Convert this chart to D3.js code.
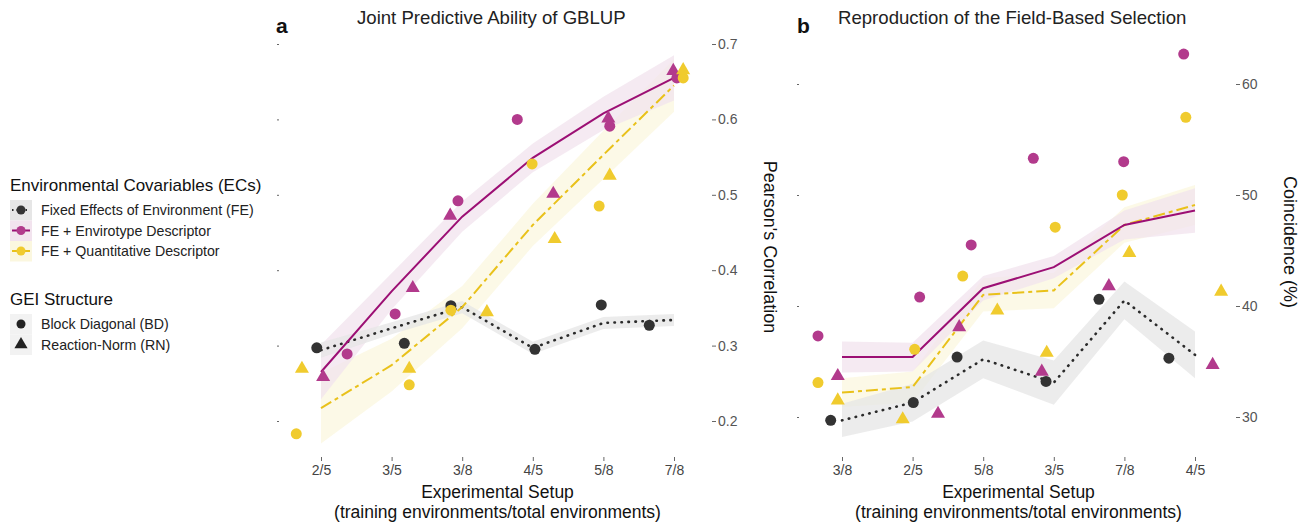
<!doctype html>
<html lang="en">
<head>
<meta charset="utf-8">
<title>GBLUP</title>
<style>
  body { margin: 0; background: white; font-family: "Liberation Sans", Arial, sans-serif; }
  svg { display: block; }
  .ttl { font-size: 18.6px; fill: #222; }
  .tag { font-size: 21px; font-weight: bold; fill: #111; }
  .yr text { font-size: 14px; fill: #555; }
  .yr line, .yl line, .xb line { stroke: #666; }
  .xb text { font-size: 14px; fill: #444; }
  .xt { font-size: 17.5px; fill: #111; }
  .yt { font-size: 18px; fill: #111; }
  .leg { font-size: 14.2px; fill: #222; }
  .legt { font-size: 17px; fill: #111; }
</style>
</head>
<body>
<script src="https://cdnjs.cloudflare.com/ajax/libs/d3/7.8.5/d3.min.js"></script>
<script>
// ---------- data ----------
var catsA = ["2/5", "3/5", "3/8", "4/5", "5/8", "7/8"];
var catsB = ["3/8", "2/5", "5/8", "3/5", "7/8", "4/5"];
var seriesNames = ["Fixed Effects of Environment (FE)", "FE + Envirotype Descriptor", "FE + Quantitative Descriptor"];

// panel a: fitted line values per category and band half widths
var lineA_FE  = [0.294, 0.323, 0.351, 0.297, 0.330, 0.334];
var bandA_FE  = [0.010, 0.008, 0.008, 0.008, 0.008, 0.008];
var lineA_ENV = [0.265, 0.372, 0.471, 0.549, 0.608, 0.655];
var bandA_ENV = [0.036, 0.024, 0.020, 0.019, 0.022, 0.030];
var lineA_QD  = [0.217, 0.274, 0.351, 0.460, 0.553, 0.645];
var bandA_QD  = [0.047, 0.035, 0.028, 0.028, 0.032, 0.035];

// panel a points: [x position in category units, value]
var ptsA_FE_BD  = [[-0.06, 0.297], [1.18, 0.303], [1.84, 0.353], [3.03, 0.295], [3.97, 0.354], [4.65, 0.327]];
var ptsA_ENV_BD = [[0.37, 0.289], [1.05, 0.342], [1.94, 0.492], [2.78, 0.600], [4.09, 0.591], [5.04, 0.655]];
var ptsA_ENV_RN = [[0.03, 0.257], [1.30, 0.375], [1.83, 0.471], [3.29, 0.500], [4.07, 0.600], [4.99, 0.663]];
var ptsA_QD_BD  = [[-0.35, 0.183], [1.25, 0.248], [1.84, 0.347], [2.99, 0.541], [3.94, 0.485], [5.13, 0.655]];
var ptsA_QD_RN  = [[-0.27, 0.268], [1.25, 0.268], [2.35, 0.343], [3.31, 0.440], [4.09, 0.524], [5.13, 0.664]];

// panel b
var lineB_FE  = [29.7, 31.3, 35.2, 33.1, 40.5, 35.6];
var bandB_FE  = [1.5, 1.7, 1.7, 2.0, 1.7, 2.1];
var lineB_ENV = [35.4, 35.4, 41.6, 43.5, 47.3, 48.6];
var bandB_ENV = [1.4, 1.3, 1.1, 1.0, 1.3, 2.0];
var lineB_QD  = [32.2, 32.7, 41.0, 41.4, 47.3, 49.1];
var bandB_QD  = [1.3, 1.4, 1.5, 1.6, 1.6, 1.8];

var ptsB_FE_BD  = [[-0.16, 29.7], [1.01, 31.3], [1.63, 35.4], [2.89, 33.2], [3.64, 40.6], [4.63, 35.3]];
var ptsB_ENV_BD = [[-0.34, 37.3], [1.10, 40.8], [1.83, 45.5], [2.71, 53.3], [3.99, 53.0], [4.84, 62.7]];
var ptsB_ENV_RN = [[-0.06, 33.6], [1.36, 30.2], [1.66, 38.0], [2.83, 34.0], [3.78, 41.7], [5.25, 34.6]];
var ptsB_QD_BD  = [[-0.34, 33.1], [1.03, 36.1], [1.71, 42.7], [3.02, 47.1], [3.97, 50.0], [4.87, 57.0]];
var ptsB_QD_RN  = [[-0.06, 31.4], [0.86, 29.7], [2.20, 39.5], [2.90, 35.7], [4.07, 44.7], [5.37, 41.2]];

var ticksA = [0.2, 0.3, 0.4, 0.5, 0.6, 0.7];
var ticksB = [30, 40, 50, 60];

// ---------- styles ----------
var col = { FE: "#2b2b2b", ENV: "#9c0f74", QD: "#e9c11a" };
var ptCol = { FE: "#333333", ENV: "#b23a8c", QD: "#f0cb2e" };
var bandCol = { FE: "#e6e6e6", ENV: "#f2e3ee", QD: "#fbf7df" };
var dash = { FE: "0.5 6.5", ENV: null, QD: "12 4 4 4" };
var lw = { FE: 2.6, ENV: 2, QD: 2 };

var svg = d3.select("body").append("svg").attr("width", 1307).attr("height", 522);

function panel(o) {
  var x = d3.scaleLinear().domain([0, 5]).range(o.xr);
  var y = d3.scaleLinear().domain(o.yd).range(o.yr);
  var g = svg.append("g");

  // bands
  ["QD", "ENV", "FE"].forEach(function(k) {
    var bw = o.bands[k];
    var area = d3.area()
      .x(function(d, i) { return x(i); })
      .y0(function(d, i) { return y(d - bw[i]); })
      .y1(function(d, i) { return y(d + bw[i]); });
    g.append("path").datum(o.lines[k]).attr("d", area)
      .attr("fill", bandCol[k]).attr("opacity", 0.75);
  });

  // lines
  ["FE", "QD", "ENV"].forEach(function(k) {
    var line = d3.line().x(function(d, i) { return x(i); }).y(function(d) { return y(d); });
    g.append("path").datum(o.lines[k]).attr("d", line)
      .attr("fill", "none").attr("stroke", col[k]).attr("stroke-width", lw[k])
      .attr("stroke-linecap", k === "FE" ? "round" : "butt")
      .attr("stroke-dasharray", dash[k]);
  });

  // points
  var tri = d3.symbol().type(d3.symbolTriangle).size(85);
  o.points.forEach(function(p) {
    var s = g.selectAll(null).data(p.data).enter();
    if (p.shape === "c") {
      s.append("circle")
        .attr("cx", function(d) { return x(d[0]); })
        .attr("cy", function(d) { return y(d[1]); })
        .attr("r", 5.5).attr("fill", ptCol[p.k]);
    } else {
      s.append("path").attr("d", tri)
        .attr("transform", function(d) { return "translate(" + x(d[0]) + "," + (y(d[1]) - 1) + ")"; })
        .attr("fill", ptCol[p.k]);
    }
  });

  // axes
  var yl = g.append("g").attr("class", "yl").attr("transform", "translate(" + o.leftX + ",0)")
    .call(d3.axisLeft(y).tickValues(o.ticks).tickSize(2).tickFormat(""));
  yl.select(".domain").remove();
  var yr = g.append("g").attr("class", "yr").attr("transform", "translate(" + o.rightX + ",0)")
    .call(d3.axisRight(y).tickValues(o.ticks).tickSize(4).tickPadding(2).tickFormat(o.fmt));
  yr.select(".domain").remove();
  var xb = g.append("g").attr("class", "xb").attr("transform", "translate(0,457)")
    .call(d3.axisBottom(x).tickValues([0, 1, 2, 3, 4, 5]).tickSize(4).tickPadding(4)
      .tickFormat(function(d) { return o.cats[d]; }));
  xb.select(".domain").remove();

  var cx = (o.xr[0] + o.xr[1]) / 2;
  g.append("text").attr("class", "xt").attr("x", cx).attr("y", 498).attr("text-anchor", "middle").text("Experimental Setup");
  g.append("text").attr("class", "xt").attr("x", cx).attr("y", 518).attr("text-anchor", "middle").text("(training environments/total environments)");

  g.append("text").attr("class", "yt")
    .attr("transform", "translate(" + o.ytX + "," + o.ytY + ") rotate(90)")
    .attr("text-anchor", "middle").text(o.ytitle);

  g.append("text").attr("class", "tag").attr("x", o.tagX).attr("y", 33).text(o.tag);
  g.append("text").attr("class", "ttl").attr("x", o.titleX).attr("y", 24).text(o.title);
}

panel({
  xr: [321, 674], yd: [0.2, 0.7], yr: [421, 44], cats: catsA, ticks: ticksA,
  fmt: d3.format(".1f"), leftX: 279, rightX: 712,
  lines: { FE: lineA_FE, ENV: lineA_ENV, QD: lineA_QD },
  bands: { FE: bandA_FE, ENV: bandA_ENV, QD: bandA_QD },
  points: [
    { k: "FE", shape: "c", data: ptsA_FE_BD },
    { k: "ENV", shape: "c", data: ptsA_ENV_BD },
    { k: "ENV", shape: "t", data: ptsA_ENV_RN },
    { k: "QD", shape: "c", data: ptsA_QD_BD },
    { k: "QD", shape: "t", data: ptsA_QD_RN }
  ],
  ytitle: "Pearson's Correlation", ytX: 764, ytY: 247,
  tag: "a", tagX: 276, title: "Joint Predictive Ability of GBLUP", titleX: 357
});

panel({
  xr: [842, 1195], yd: [30, 60], yr: [417, 84], cats: catsB, ticks: ticksB,
  fmt: d3.format("d"), leftX: 799, rightX: 1236,
  lines: { FE: lineB_FE, ENV: lineB_ENV, QD: lineB_QD },
  bands: { FE: bandB_FE, ENV: bandB_ENV, QD: bandB_QD },
  points: [
    { k: "FE", shape: "c", data: ptsB_FE_BD },
    { k: "ENV", shape: "c", data: ptsB_ENV_BD },
    { k: "ENV", shape: "t", data: ptsB_ENV_RN },
    { k: "QD", shape: "c", data: ptsB_QD_BD },
    { k: "QD", shape: "t", data: ptsB_QD_RN }
  ],
  ytitle: "Coincidence (%)", ytX: 1284, ytY: 242,
  tag: "b", tagX: 797, title: "Reproduction of the Field-Based Selection", titleX: 838
});

// ---------- legend ----------
var leg = svg.append("g");
leg.append("text").attr("class", "legt").attr("x", 10).attr("y", 191).text("Environmental Covariables (ECs)");
["FE", "ENV", "QD"].forEach(function(k, i) {
  var yy = 200 + i * 20.5;
  leg.append("rect").attr("x", 10).attr("y", yy).attr("width", 22).attr("height", 20.5).attr("fill", bandCol[k]);
  leg.append("line").attr("x1", 12).attr("x2", 30).attr("y1", yy + 10).attr("y2", yy + 10)
    .attr("stroke", col[k]).attr("stroke-width", 2)
    .attr("stroke-dasharray", k === "FE" ? "1.5 3" : null);
  leg.append("circle").attr("cx", 21).attr("cy", yy + 10).attr("r", 4.5).attr("fill", ptCol[k]);
  leg.append("text").attr("class", "leg").attr("x", 41).attr("y", yy + 15).text(seriesNames[i]);
});
leg.append("text").attr("class", "legt").attr("x", 10).attr("y", 305).text("GEI Structure");
var gei = ["Block Diagonal (BD)", "Reaction-Norm (RN)"];
gei.forEach(function(t, i) {
  var yy = 314 + i * 20.5;
  leg.append("rect").attr("x", 10).attr("y", yy).attr("width", 22).attr("height", 20.5).attr("fill", "#f2f2f2");
  if (i === 0) {
    leg.append("circle").attr("cx", 21).attr("cy", yy + 10).attr("r", 4.5).attr("fill", "#222");
  } else {
    leg.append("path").attr("d", d3.symbol().type(d3.symbolTriangle).size(75))
      .attr("transform", "translate(21," + (yy + 10) + ")").attr("fill", "#222");
  }
  leg.append("text").attr("class", "leg").attr("x", 41).attr("y", yy + 15).text(t);
});
</script>
</body>
</html>
